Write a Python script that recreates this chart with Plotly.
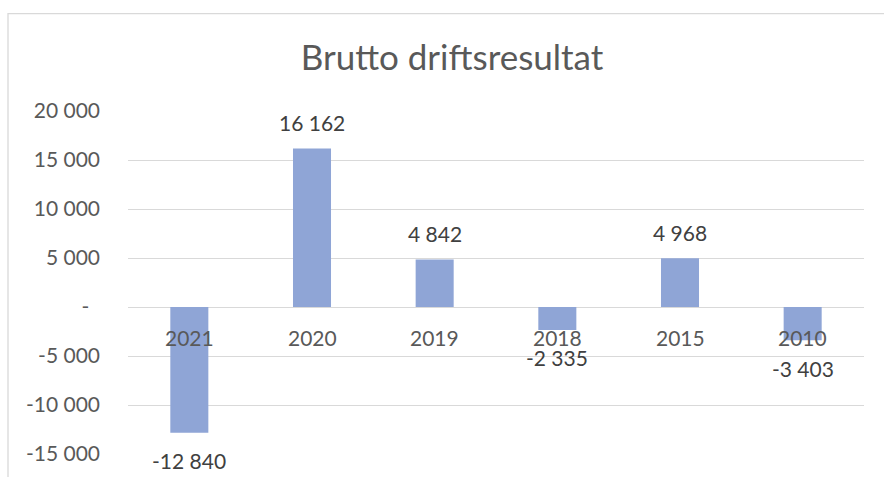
import plotly.graph_objects as go

categories = ["2021", "2020", "2019", "2018", "2015", "2010"]
values = [-12840, 16162, 4842, -2335, 4968, -3403]
value_labels = ["-12 840", "16 162", "4 842", "-2 335", "4 968", "-3 403"]
tick_vals = [-15000, -10000, -5000, 0, 5000, 10000, 15000, 20000]
tick_text = ["-15 000", "-10 000", "-5 000", "-\u00a0\u00a0", "5 000", "10 000", "15 000", "20 000"]
title_text = "Brutto driftsresultat"

FONT = "Lato, Carlito, Calibri, sans-serif"
W, H = 884, 477
L, R, T, B = 128, 20, 111, 21
pw, ph = W - L - R, H - T - B

fig = go.Figure()
fig.add_trace(go.Bar(
    x=categories, y=values, width=0.31,
    marker=dict(color="#8FA5D6", line=dict(width=0)),
    hoverinfo="skip",
))

annotations = []
for i, (c, v, t) in enumerate(zip(categories, values, value_labels)):
    annotations.append(dict(
        x=i, y=v, xref="x", yref="y", text=t, showarrow=False,
        yanchor="middle", yshift=26 if v >= 0 else -28,
        font=dict(family=FONT, size=21, color="#404040"),
    ))
    annotations.append(dict(
        x=i, y=0, xref="x", yref="y", text=c, showarrow=False,
        yanchor="middle", yshift=-30,
        font=dict(family=FONT, size=21, color="#595959"),
    ))

fig.update_layout(
    width=W, height=H,
    margin=dict(l=L, r=R, t=T, b=B, pad=0),
    paper_bgcolor="white", plot_bgcolor="white",
    showlegend=False,
    title=dict(text=title_text, x=452 / W, xref="container", xanchor="center",
               y=1 - 58 / H, yref="container", yanchor="middle",
               font=dict(family=FONT, size=35, color="#595959")),
    annotations=annotations,
    shapes=[dict(type="rect", xref="paper", yref="paper",
                 x0=(8 - L) / pw, x1=(895 - L) / pw,
                 y0=-0.3, y1=(T + ph - 13) / ph,
                 line=dict(color="#D9D9D9", width=1.3), fillcolor="rgba(0,0,0,0)",
                 layer="below")],
)
fig.update_xaxes(type="category", range=[-0.5, 5.5], showticklabels=False, showgrid=False,
                 zeroline=False, showline=False, ticks="")
fig.update_yaxes(range=[-15000, 20000], tickvals=tick_vals, ticktext=tick_text,
                 showgrid=True, gridcolor="#D9D9D9", gridwidth=1,
                 zeroline=True, zerolinecolor="#D9D9D9", zerolinewidth=1,
                 showline=False, ticks="", ticklabelstandoff=27,
                 tickfont=dict(family=FONT, size=21, color="#595959"))

fig.write_html("out.html", config={"displayModeBar": False},
               post_script="document.body.style.margin='0';document.body.style.overflow='hidden';")
